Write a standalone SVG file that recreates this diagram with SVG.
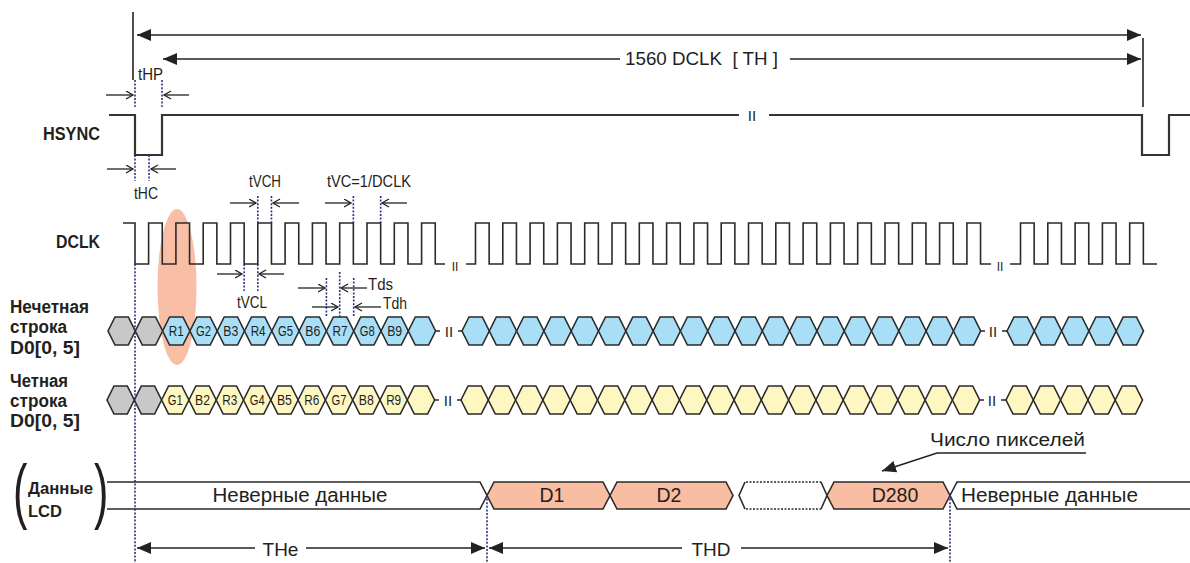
<svg xmlns="http://www.w3.org/2000/svg" xmlns:xlink="http://www.w3.org/1999/xlink" width="1190" height="563" viewBox="0 0 1190 563">
<style>
text{font-family:"Liberation Sans",Arial,sans-serif;fill:#231f20}
.bl{font-weight:bold;font-size:18px}
.tm{font-size:16px}
.hl{font-size:15px;text-anchor:middle}
.big{font-size:19.5px}
.mid{text-anchor:middle}
.brk{font-size:15px;text-anchor:middle}
.par{font-size:72px}
.wv{fill:none;stroke:#2a2a2a;stroke-width:1.6}
.hs{fill:none;stroke:#333;stroke-width:2.2}
.dot{fill:none;stroke:#2b2b8c;stroke-width:1.6;stroke-dasharray:2 1.6}
.ar{fill:none;stroke:#222;stroke-width:1.3;marker-end:url(#open)}
.fa{fill:none;stroke:#222;stroke-width:1.6}
.hx{stroke:#2a2a2a;stroke-width:1.6}
.ln{fill:none;stroke:#2a2a2a;stroke-width:1.6}
.bx{stroke:#2a2a2a;stroke-width:1.6}
.dl{fill:none;stroke:#2a2a2a;stroke-width:1.6;stroke-dasharray:2 1.5}
.g{fill:#c8c8c8}.b{fill:#a8def6}.y{fill:#fff7c2}.s{fill:#f8bda3}.w{fill:#fff}
</style>
<defs>
<marker id="open" markerUnits="userSpaceOnUse" markerWidth="10" markerHeight="10" refX="7.5" refY="4.5" orient="auto"><path d="M0.5,0.5 L7.5,4.5 L0.5,8.5" fill="none" stroke="#222" stroke-width="1.3"/></marker>
<marker id="fill" markerUnits="userSpaceOnUse" markerWidth="16" markerHeight="12" refX="14" refY="6" orient="auto-start-reverse"><path d="M0,0 L14,6 L0,12 z" fill="#222"/></marker>
<polygon id="hx" points="0,14 7,0 20.3,0 27.3,14 20.3,28 7,28"/>
</defs>

<ellipse id="highlight" cx="177" cy="287" rx="19.5" ry="78" fill="#f8bea6"/>

<g id="labels">
<text class="bl" x="43" y="140" textLength="57" lengthAdjust="spacingAndGlyphs">HSYNC</text>
<text class="bl" x="56" y="248" textLength="44" lengthAdjust="spacingAndGlyphs">DCLK</text>
<text class="bl" x="10" y="313" textLength="79" lengthAdjust="spacingAndGlyphs">Нечетная</text>
<text class="bl" x="10" y="333" textLength="57" lengthAdjust="spacingAndGlyphs">строка</text>
<text class="bl" x="10" y="354" textLength="70" lengthAdjust="spacingAndGlyphs">D0[0, 5]</text>
<text class="bl" x="10" y="387" textLength="58" lengthAdjust="spacingAndGlyphs">Четная</text>
<text class="bl" x="10" y="407" textLength="57" lengthAdjust="spacingAndGlyphs">строка</text>
<text class="bl" x="10" y="427" textLength="70" lengthAdjust="spacingAndGlyphs">D0[0, 5]</text>
<text class="par" transform="translate(13,515) scale(0.6,1)">(</text>
<text class="bl" x="28" y="494" style="font-size:16.5px" textLength="65" lengthAdjust="spacingAndGlyphs">Данные</text>
<text class="bl" x="28" y="517" style="font-size:16.5px" textLength="34" lengthAdjust="spacingAndGlyphs">LCD</text>
<text class="par" transform="translate(94,515) scale(0.6,1)">)</text>
</g>

<g id="hsync">
<path class="hs" d="M109,115 H135 V155 H162 V115 H739"/>
<path class="hs" d="M769,115 H1142 V155 H1169 V115 H1190"/>
<text class="brk" x="752" y="121">II</text>
</g>

<g id="dclk">
<path class="wv" d="M123,223 H135 V264 H148.6 V223 H162.25 V264 H175.9 V223 H189.55 V264 H203.2 V223 H216.85 V264 H230.5 V223 H244.15 V264 H257.8 V223 H271.45 V264 H285.1 V223 H298.75 V264 H312.4 V223 H326.05 V264 H339.7 V223 H353.35 V264 H367 V223 H380.65 V264 H394.3 V223 H407.95 V264 H421.6 V223 H435.25 V264 H445"/>
<path class="wv" d="M466,264 H475.5 V223 H489.15 V264 H502.8 V223 H516.45 V264 H530.1 V223 H543.75 V264 H557.4 V223 H571.05 V264 H584.7 V223 H598.35 V264 H612 V223 H625.65 V264 H639.3 V223 H652.95 V264 H666.6 V223 H680.25 V264 H693.9 V223 H707.55 V264 H721.2 V223 H734.85 V264 H748.5 V223 H762.15 V264 H775.8 V223 H789.45 V264 H803.1 V223 H816.75 V264 H830.4 V223 H844.05 V264 H857.7 V223 H871.35 V264 H885 V223 H898.65 V264 H912.3 V223 H925.95 V264 H939.6 V223 H953.25 V264 H966.9 V223 H980.55 V264 H991"/>
<path class="wv" d="M1010,264 H1020.5 V223 H1034.15 V264 H1047.8 V223 H1061.45 V264 H1075.1 V223 H1088.75 V264 H1102.4 V223 H1116.05 V264 H1129.7 V223 H1143.35 V264 H1157"/>
<text x="455" y="271" style="font-size:12px;text-anchor:middle">II</text>
<text x="1000" y="271" style="font-size:12px;text-anchor:middle">II</text>
</g>

<g id="odd-row">
<use href="#hx" x="108" y="317" class="hx g"/><use href="#hx" x="135.3" y="317" class="hx g"/>
<use href="#hx" x="162.6" y="317" class="hx b"/><use href="#hx" x="189.9" y="317" class="hx b"/><use href="#hx" x="217.2" y="317" class="hx b"/><use href="#hx" x="244.5" y="317" class="hx b"/><use href="#hx" x="271.8" y="317" class="hx b"/><use href="#hx" x="299.1" y="317" class="hx b"/><use href="#hx" x="326.4" y="317" class="hx b"/><use href="#hx" x="353.7" y="317" class="hx b"/><use href="#hx" x="381" y="317" class="hx b"/><use href="#hx" x="408.3" y="317" class="hx b"/>
<use href="#hx" x="462" y="317" class="hx b"/><use href="#hx" x="489.3" y="317" class="hx b"/><use href="#hx" x="516.6" y="317" class="hx b"/><use href="#hx" x="543.9" y="317" class="hx b"/><use href="#hx" x="571.2" y="317" class="hx b"/><use href="#hx" x="598.5" y="317" class="hx b"/><use href="#hx" x="625.8" y="317" class="hx b"/><use href="#hx" x="653.1" y="317" class="hx b"/><use href="#hx" x="680.4" y="317" class="hx b"/><use href="#hx" x="707.7" y="317" class="hx b"/><use href="#hx" x="735" y="317" class="hx b"/><use href="#hx" x="762.3" y="317" class="hx b"/><use href="#hx" x="789.6" y="317" class="hx b"/><use href="#hx" x="816.9" y="317" class="hx b"/><use href="#hx" x="844.2" y="317" class="hx b"/><use href="#hx" x="871.5" y="317" class="hx b"/><use href="#hx" x="898.8" y="317" class="hx b"/><use href="#hx" x="926.1" y="317" class="hx b"/><use href="#hx" x="953.4" y="317" class="hx b"/>
<use href="#hx" x="1007" y="317" class="hx b"/><use href="#hx" x="1034.3" y="317" class="hx b"/><use href="#hx" x="1061.6" y="317" class="hx b"/><use href="#hx" x="1088.9" y="317" class="hx b"/><use href="#hx" x="1116.2" y="317" class="hx b"/>
<path class="ln" d="M435,331 H440 M458,331 H462 M980,331 H985 M1002,331 H1007"/>
<text class="brk" x="449" y="337">II</text>
<text class="brk" x="993" y="337">II</text>
<text class="hl" x="176.25" y="336" textLength="15" lengthAdjust="spacingAndGlyphs">R1</text>
<text class="hl" x="203.55" y="336" textLength="15" lengthAdjust="spacingAndGlyphs">G2</text>
<text class="hl" x="230.85" y="336" textLength="15" lengthAdjust="spacingAndGlyphs">B3</text>
<text class="hl" x="258.15" y="336" textLength="15" lengthAdjust="spacingAndGlyphs">R4</text>
<text class="hl" x="285.45" y="336" textLength="15" lengthAdjust="spacingAndGlyphs">G5</text>
<text class="hl" x="312.75" y="336" textLength="15" lengthAdjust="spacingAndGlyphs">B6</text>
<text class="hl" x="340.05" y="336" textLength="15" lengthAdjust="spacingAndGlyphs">R7</text>
<text class="hl" x="367.35" y="336" textLength="15" lengthAdjust="spacingAndGlyphs">G8</text>
<text class="hl" x="394.65" y="336" textLength="15" lengthAdjust="spacingAndGlyphs">B9</text>
</g>

<g id="even-row">
<use href="#hx" x="107" y="386" class="hx g"/><use href="#hx" x="134.3" y="386" class="hx g"/>
<use href="#hx" x="161.6" y="386" class="hx y"/><use href="#hx" x="188.9" y="386" class="hx y"/><use href="#hx" x="216.2" y="386" class="hx y"/><use href="#hx" x="243.5" y="386" class="hx y"/><use href="#hx" x="270.8" y="386" class="hx y"/><use href="#hx" x="298.1" y="386" class="hx y"/><use href="#hx" x="325.4" y="386" class="hx y"/><use href="#hx" x="352.7" y="386" class="hx y"/><use href="#hx" x="380" y="386" class="hx y"/><use href="#hx" x="407.3" y="386" class="hx y"/>
<use href="#hx" x="461" y="386" class="hx y"/><use href="#hx" x="488.3" y="386" class="hx y"/><use href="#hx" x="515.6" y="386" class="hx y"/><use href="#hx" x="542.9" y="386" class="hx y"/><use href="#hx" x="570.2" y="386" class="hx y"/><use href="#hx" x="597.5" y="386" class="hx y"/><use href="#hx" x="624.8" y="386" class="hx y"/><use href="#hx" x="652.1" y="386" class="hx y"/><use href="#hx" x="679.4" y="386" class="hx y"/><use href="#hx" x="706.7" y="386" class="hx y"/><use href="#hx" x="734" y="386" class="hx y"/><use href="#hx" x="761.3" y="386" class="hx y"/><use href="#hx" x="788.6" y="386" class="hx y"/><use href="#hx" x="815.9" y="386" class="hx y"/><use href="#hx" x="843.2" y="386" class="hx y"/><use href="#hx" x="870.5" y="386" class="hx y"/><use href="#hx" x="897.8" y="386" class="hx y"/><use href="#hx" x="925.1" y="386" class="hx y"/><use href="#hx" x="952.4" y="386" class="hx y"/>
<use href="#hx" x="1006" y="386" class="hx y"/><use href="#hx" x="1033.3" y="386" class="hx y"/><use href="#hx" x="1060.6" y="386" class="hx y"/><use href="#hx" x="1087.9" y="386" class="hx y"/><use href="#hx" x="1115.2" y="386" class="hx y"/>
<path class="ln" d="M434,400 H439 M457,400 H461 M979,400 H984 M1001,400 H1006"/>
<text class="brk" x="448" y="406">II</text>
<text class="brk" x="992" y="406">II</text>
<text class="hl" x="175.25" y="405" textLength="15" lengthAdjust="spacingAndGlyphs">G1</text>
<text class="hl" x="202.55" y="405" textLength="15" lengthAdjust="spacingAndGlyphs">B2</text>
<text class="hl" x="229.85" y="405" textLength="15" lengthAdjust="spacingAndGlyphs">R3</text>
<text class="hl" x="257.15" y="405" textLength="15" lengthAdjust="spacingAndGlyphs">G4</text>
<text class="hl" x="284.45" y="405" textLength="15" lengthAdjust="spacingAndGlyphs">B5</text>
<text class="hl" x="311.75" y="405" textLength="15" lengthAdjust="spacingAndGlyphs">R6</text>
<text class="hl" x="339.05" y="405" textLength="15" lengthAdjust="spacingAndGlyphs">G7</text>
<text class="hl" x="366.35" y="405" textLength="15" lengthAdjust="spacingAndGlyphs">B8</text>
<text class="hl" x="393.65" y="405" textLength="15" lengthAdjust="spacingAndGlyphs">R9</text>
</g>

<g id="lcd-row">
<path class="bx w" d="M107,482 H480 L487,495.5 L480,509 H107"/>
<polygon class="bx s" points="487,495.5 494,482 603,482 610,495.5 603,509 494,509"/>
<polygon class="bx s" points="610,495.5 617,482 726,482 733,495.5 726,509 617,509"/>
<path class="ln" d="M745,482 L739,495.5 L745,509 M821,482 L827,495.5 L821,509"/>
<path class="dl" d="M746,482 H821 M746,509 H821"/>
<polygon class="bx s" points="827,495.5 834,482 943,482 950,495.5 943,509 834,509"/>
<path class="bx w" d="M1190,482 H957 L950,495.5 L957,509 H1190"/>
<text class="big mid" x="300" y="502" textLength="175" lengthAdjust="spacingAndGlyphs">Неверные данные</text>
<text class="big mid" x="552" y="502">D1</text>
<text class="big mid" x="669" y="502">D2</text>
<text class="big mid" x="895" y="502">D280</text>
<text class="big" x="961" y="502" textLength="177" lengthAdjust="spacingAndGlyphs">Неверные данные</text>
</g>

<g id="timing-text">
<text class="tm" x="625" y="65" style="font-size:18px" textLength="153" lengthAdjust="spacingAndGlyphs">1560 DCLK &#160;[ TH ]</text>
<text class="tm" x="138" y="80" textLength="25" lengthAdjust="spacingAndGlyphs">tHP</text>
<text class="tm" x="134" y="199" textLength="24" lengthAdjust="spacingAndGlyphs">tHC</text>
<text class="tm" x="249" y="187" textLength="32" lengthAdjust="spacingAndGlyphs">tVCH</text>
<text class="tm" x="327" y="187" textLength="84" lengthAdjust="spacingAndGlyphs">tVC=1/DCLK</text>
<text class="tm" x="237" y="308" textLength="30" lengthAdjust="spacingAndGlyphs">tVCL</text>
<text class="tm" x="368" y="290" textLength="25" lengthAdjust="spacingAndGlyphs">Tds</text>
<text class="tm" x="383" y="309" textLength="24" lengthAdjust="spacingAndGlyphs">Tdh</text>
<text class="big mid" x="280.5" y="556" style="font-size:19px">THe</text>
<text class="big mid" x="711" y="556" style="font-size:19px">THD</text>
<text class="tm" x="930" y="446" style="font-size:18px" textLength="155" lengthAdjust="spacingAndGlyphs">Число пикселей</text>
</g>

<g id="connectors">
<line x1="133" y1="12" x2="133" y2="80" class="fa"/>
<line x1="1143" y1="38" x2="1143" y2="107" class="fa"/>
<line x1="137" y1="35" x2="1141" y2="35" class="fa" style="marker-start:url(#fill);marker-end:url(#fill)"/>
<line x1="163" y1="59" x2="620" y2="59" class="fa" style="marker-start:url(#fill)"/>
<line x1="790" y1="59" x2="1141" y2="59" class="fa" style="marker-end:url(#fill)"/>
<line x1="137" y1="548" x2="255" y2="548" class="fa" style="marker-start:url(#fill)"/>
<line x1="306" y1="548" x2="485" y2="548" class="fa" style="marker-end:url(#fill)"/>
<line x1="489" y1="548" x2="682" y2="548" class="fa" style="marker-start:url(#fill)"/>
<line x1="741" y1="548" x2="948" y2="548" class="fa" style="marker-end:url(#fill)"/>
<polyline points="1086,453 937,453 882,471" class="fa" style="marker-end:url(#fill)"/>
<line class="dot" x1="135" y1="80" x2="135" y2="107"/>
<line class="dot" x1="162" y1="80" x2="162" y2="107"/>
<line class="dot" x1="135" y1="155" x2="135" y2="181"/>
<line class="dot" x1="149" y1="155" x2="149" y2="181"/>
<line class="dot" x1="257.8" y1="196" x2="257.8" y2="223"/>
<line class="dot" x1="271.45" y1="196" x2="271.45" y2="223"/>
<line class="dot" x1="353.35" y1="196" x2="353.35" y2="223"/>
<line class="dot" x1="380.65" y1="196" x2="380.65" y2="223"/>
<line class="dot" x1="244.15" y1="264" x2="244.15" y2="291"/>
<line class="dot" x1="257.8" y1="264" x2="257.8" y2="291"/>
<line class="dot" x1="326.4" y1="278" x2="326.4" y2="317"/>
<line class="dot" x1="339.7" y1="272" x2="339.7" y2="317"/>
<line class="dot" x1="353.7" y1="278" x2="353.7" y2="317"/>
<line class="dot" x1="135" y1="264" x2="135" y2="563"/>
<line class="dot" x1="487" y1="495" x2="487" y2="563"/>
<line class="dot" x1="950" y1="495" x2="950" y2="563"/>
<line class="ar" x1="106" y1="95" x2="133" y2="95"/>
<line class="ar" x1="189" y1="95" x2="164" y2="95"/>
<line class="ar" x1="107" y1="169" x2="133" y2="169"/>
<line class="ar" x1="176" y1="169" x2="151" y2="169"/>
<line class="ar" x1="230" y1="203" x2="256" y2="203"/>
<line class="ar" x1="299" y1="203" x2="273" y2="203"/>
<line class="ar" x1="325" y1="203" x2="351" y2="203"/>
<line class="ar" x1="407" y1="203" x2="382" y2="203"/>
<line class="ar" x1="217" y1="274" x2="242" y2="274"/>
<line class="ar" x1="284" y1="274" x2="259" y2="274"/>
<line class="ar" x1="298" y1="288" x2="325" y2="288"/>
<line class="ar" x1="367" y1="288" x2="341" y2="288"/>
<line class="ar" x1="312" y1="307" x2="338" y2="307"/>
<line class="ar" x1="381" y1="307" x2="355" y2="307"/>
</g>
</svg>
